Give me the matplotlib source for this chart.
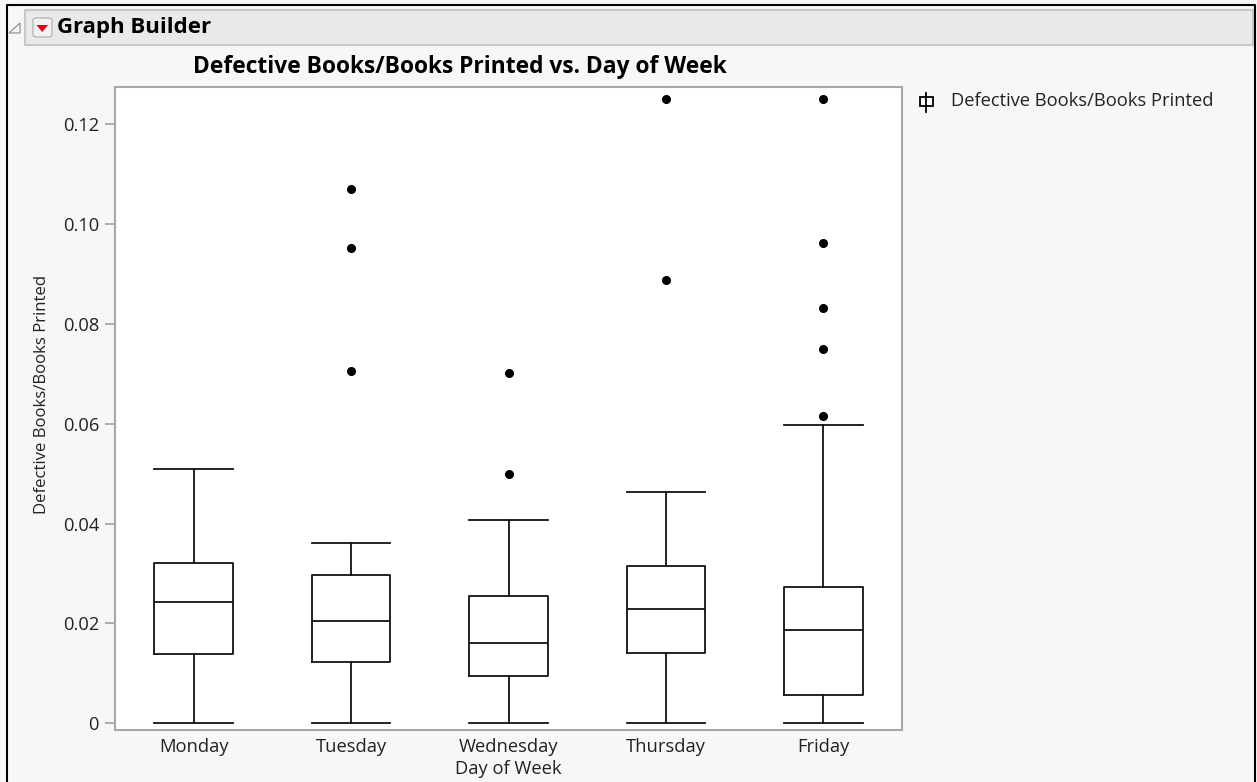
import matplotlib
matplotlib.use("Agg")
import matplotlib.pyplot as plt
from matplotlib.patches import Rectangle, FancyBboxPatch, Polygon
from matplotlib.lines import Line2D

# 数据
days = ["Monday", "Tuesday", "Wednesday", "Thursday", "Friday"]
whislo = [0.0, 0.0, 0.0, 0.0, 0.0]
q1 = [0.0138, 0.0122, 0.0095, 0.0141, 0.0057]
med = [0.0243, 0.0204, 0.0161, 0.0230, 0.0187]
q3 = [0.0321, 0.0298, 0.0256, 0.0315, 0.0273]
whishi = [0.0509, 0.0361, 0.0407, 0.0464, 0.0598]
fliers = [
    [],
    [0.1070, 0.0952, 0.0705],
    [0.0702, 0.0500],
    [0.1250, 0.0889],
    [0.1250, 0.0962, 0.0833, 0.0750, 0.0615],
]
y_ticks = [0, 0.02, 0.04, 0.06, 0.08, 0.10, 0.12]
y_labels = ["0", "0.02", "0.04", "0.06", "0.08", "0.10", "0.12"]

W, H = 1257, 782
plt.rcParams["font.family"] = ["Open Sans", "DejaVu Sans"]

fig = plt.figure(figsize=(W / 100, H / 100), dpi=100)
fig.patch.set_facecolor("#f7f7f7")


def fx(x):
    return x / W


def fy(y):
    return 1 - y / H


# 外框（底边在截图之外）和标题栏
fig.add_artist(Line2D([fx(7), fx(7), fx(1255), fx(1255)], [fy(790), fy(5), fy(5), fy(790)],
                      transform=fig.transFigure, color="black", lw=1.5))
fig.add_artist(Rectangle((fx(25), fy(45)), fx(1253) - fx(25), fy(10) - fy(45),
                         transform=fig.transFigure, facecolor="#e9e9e9", edgecolor="#c8c8c8", lw=1.5))
fig.add_artist(Polygon([(fx(9), fy(33)), (fx(20), fy(33)), (fx(20), fy(23))],
                       closed=True, transform=fig.transFigure, facecolor="none", edgecolor="#888888", lw=0.8))
fig.add_artist(FancyBboxPatch((fx(33), fy(37)), fx(52) - fx(33), fy(18) - fy(37),
                              boxstyle="round,pad=0,rounding_size=0.003", transform=fig.transFigure,
                              facecolor="#f2f2f2", edgecolor="#aaaaaa", lw=0.8))
fig.add_artist(Polygon([(fx(36.5), fy(25)), (fx(48), fy(25)), (fx(42.25), fy(32))],
                       closed=True, transform=fig.transFigure, facecolor="#e0001b", edgecolor="none"))
fig.text(fx(57), fy(27), "Graph Builder", fontsize=16, fontweight="bold", va="center", ha="left")

# 绘图区
ax = fig.add_axes([fx(115), fy(730), fx(902) - fx(115), fy(87) - fy(730)])
ax.set_facecolor("white")

stats = []
for i in range(len(days)):
    stats.append({"whislo": whislo[i], "q1": q1[i], "med": med[i], "q3": q3[i],
                  "whishi": whishi[i], "fliers": fliers[i]})

line_kw = {"color": "#111111", "linewidth": 1.3}
ax.bxp(stats, positions=range(len(days)), widths=0.5, capwidths=0.5,
       boxprops=line_kw, whiskerprops=line_kw, capprops=line_kw, medianprops=line_kw,
       flierprops={"marker": "o", "markerfacecolor": "black", "markeredgecolor": "black",
                   "markersize": 5.5, "linestyle": "none"})

ax.set_xlim(-0.5, len(days) - 0.5)
ax.set_ylim(-0.00134, 0.12748)
ax.set_yticks(y_ticks)
ax.set_yticklabels(y_labels)
ax.set_xticks(range(len(days)))
ax.set_xticklabels(days)
ax.tick_params(axis="y", length=7, width=1.2, color="#a0a0a0", labelsize=13.2, labelcolor="#222222", pad=4.5)
ax.tick_params(axis="x", length=0, labelsize=13.2, labelcolor="#222222", pad=6)
for s in ax.spines.values():
    s.set_color("#a8a8a8")
    s.set_linewidth(1.5)

ax.set_xlabel("Day of Week", fontsize=13.2, color="#222222", labelpad=3)
fig.text(fx(42), fy(394), "Defective Books/Books Printed", rotation=90, fontsize=12.1,
         color="#222222", ha="center", va="center")
fig.text(fx(460), fy(67), "Defective Books/Books Printed vs. Day of Week",
         fontsize=16.4, fontweight="bold", ha="center", va="center")

# 图例
fig.add_artist(Rectangle((fx(919.5), fy(105.5)), fx(932.5) - fx(919.5), fy(97) - fy(105.5),
                         transform=fig.transFigure, facecolor="white", edgecolor="black", lw=1.3))
fig.add_artist(Line2D([fx(926), fx(926)], [fy(93), fy(112)], transform=fig.transFigure,
                      color="black", lw=1.3))
fig.text(fx(951), fy(101), "Defective Books/Books Printed", fontsize=13.2, color="#222222",
         ha="left", va="center")

fig.savefig("out.png", dpi=100, facecolor=fig.get_facecolor())
